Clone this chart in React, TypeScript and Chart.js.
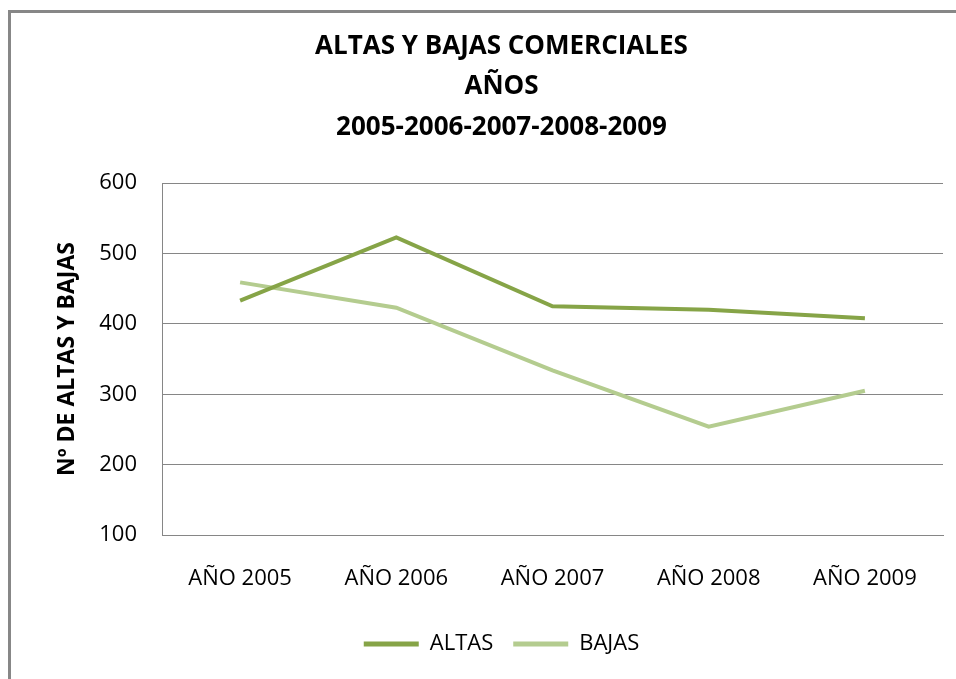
import React, { useEffect, useRef } from "react";
import { Chart, registerables } from "chart.js";

Chart.register(...registerables);

const categories = ["AÑO 2005", "AÑO 2006", "AÑO 2007", "AÑO 2008", "AÑO 2009"];
const altas = [433, 523, 425, 420, 408];
const bajas = [459, 423, 334, 254, 305];
const titleLines = ["ALTAS Y BAJAS COMERCIALES", "AÑOS", "2005-2006-2007-2008-2009"];
const yAxisTitle = "Nº DE ALTAS Y BAJAS";

const FONT = "'Open Sans', 'DejaVu Sans', sans-serif";

const framePlugin = {
  id: "frame",
  beforeDraw(chart: any) {
    const c = chart.ctx;
    c.save();
    c.fillStyle = "#878787";
    c.fillRect(8, 10, chart.width - 8, 3);
    c.fillRect(8, 10, 3, chart.height - 10);
    c.restore();
  },
};

export default function App() {
  const ref = useRef<HTMLCanvasElement | null>(null);

  useEffect(() => {
    document.body.style.margin = "0";
    document.body.style.overflow = "hidden";
    const ctx = ref.current!;
    const chart = new Chart(ctx, {
      type: "line",
      data: {
        labels: categories,
        datasets: [
          {
            label: "ALTAS",
            data: altas,
            borderColor: "#86a447",
            backgroundColor: "#86a447",
            borderWidth: 4,
            pointRadius: 0,
            tension: 0,
          },
          {
            label: "BAJAS",
            data: bajas,
            borderColor: "#b4cc8f",
            backgroundColor: "#b4cc8f",
            borderWidth: 4,
            pointRadius: 0,
            tension: 0,
          },
        ],
      },
      plugins: [framePlugin],
      options: {
        animation: false,
        responsive: false,
        devicePixelRatio: 1,
        layout: { padding: { left: 60, right: 13, top: 0, bottom: 14 } },
        plugins: {
          title: {
            display: true,
            text: titleLines,
            color: "#000",
            font: { family: FONT, size: 26, weight: "bold", lineHeight: 1.54 },
            padding: { top: 27, bottom: 36 },
          },
          legend: {
            display: true,
            position: "bottom",
            labels: {
              color: "#000",
              font: { family: FONT, size: 22 },
              boxWidth: 55,
              boxHeight: 5,
              padding: 20,
              generateLabels: (c: any) => {
                const items = Chart.defaults.plugins.legend.labels.generateLabels(c);
                return items.map((it: any) => ({ ...it, lineWidth: 0 }));
              },
            },
          },
          tooltip: { enabled: false },
        },
        scales: {
          x: {
            offset: true,
            afterFit: (s: any) => {
              s.height = 78;
            },
            grid: { display: false, drawTicks: false },
            border: { display: true, color: "#868686", width: 1 },
            ticks: { color: "#000", font: { family: FONT, size: 22 }, padding: 31 },
          },
          y: {
            min: 100,
            max: 600,
            afterFit: (s: any) => {
              s.width = 102;
            },
            ticks: {
              stepSize: 100,
              color: "#000",
              font: { family: FONT, size: 22 },
              padding: 25,
            },
            grid: { color: "#868686", drawTicks: false, lineWidth: 1 },
            border: { display: true, color: "#868686", width: 1 },
            title: {
              display: true,
              text: yAxisTitle,
              color: "#000",
              font: { family: FONT, size: 23, weight: "bold", lineHeight: 1 },
              padding: { top: -4, bottom: 0 },
            },
          },
        },
      },
    });
    return () => chart.destroy();
  }, []);

  return (
    <div style={{ position: "relative", width: 956, height: 679, overflow: "hidden" }}>
      <canvas
        ref={ref}
        width={956}
        height={679}
        style={{ position: "absolute", left: 0, top: 0, width: 956, height: 679 }}
      />
    </div>
  );
}
